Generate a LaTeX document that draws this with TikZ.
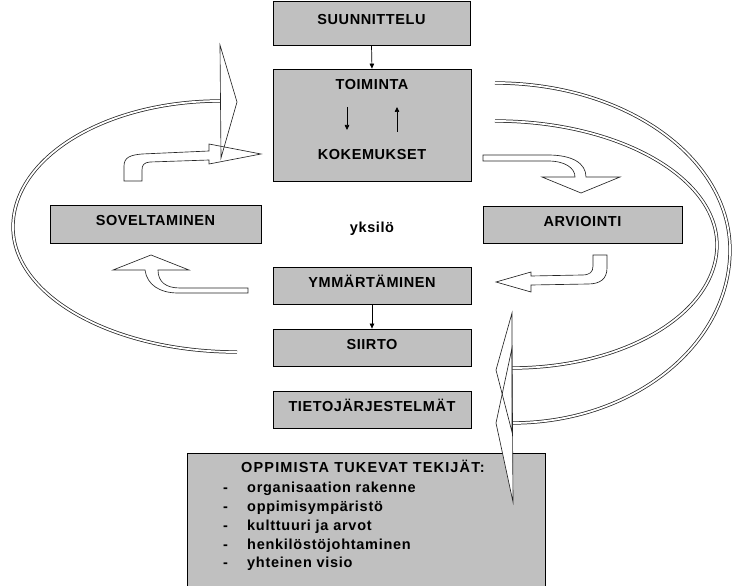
\documentclass[tikz,border=0pt]{standalone}
\usepackage{fontspec}
\setmainfont{Liberation Sans}
\usetikzlibrary{arrows.meta}
\definecolor{boxgray}{HTML}{C0C0C0}
\newcommand\boxfont{\fontsize{14.5}{17}\selectfont\bfseries\addfontfeatures{LetterSpace=4}}
\newcommand\titlefont{\fontsize{14.5}{17}\selectfont\bfseries\addfontfeatures{LetterSpace=8}}
\newcommand\itemfont{\fontsize{14.5}{17}\selectfont\bfseries\addfontfeatures{LetterSpace=5}}
\begin{document}
\begin{tikzpicture}[x=1pt,y=-1pt,
  box/.style={draw=black, line width=0.8pt, fill=boxgray, inner sep=0pt,
    font=\boxfont, text height=10.4pt, text depth=7.4pt},
  lbl/.style={inner sep=0pt, font=\boxfont, text height=10.4pt, text depth=0pt},
  conn/.style={-{Triangle[length=5pt,width=4.5pt]}, line width=0.7pt},
  band/.style={draw=black!85, line width=0.75pt, double=white, double distance=1.8pt},
  blockarrow/.style={draw=black!85, line width=0.65pt, line join=miter},
]
\useasboundingbox (0,0) rectangle (732,586);
\clip (0,0) rectangle (732,586);

% boxes
\node[box, minimum width=197pt, minimum height=44pt] (sun) at (371.5,23) {SUUNNITTELU};
\node[box, minimum width=198pt, minimum height=112pt] (toi) at (372,125) {};
\node[lbl] (toiT) at (372,84) {TOIMINTA};
\node[lbl] (kok) at (372,154) {KOKEMUKSET};
\node[box, minimum width=211pt, minimum height=38pt] (sov) at (155.5,224) {SOVELTAMINEN};
\node[box, minimum width=199pt, minimum height=37pt] (arv) at (582.5,224.5) {ARVIOINTI};
\node[lbl] (yks) at (372,227.5) {yksilö};
\node[box, minimum width=198pt, minimum height=37pt] (ymm) at (372,285.5) {YMMÄRTÄMINEN};
\node[box, minimum width=198pt, minimum height=37pt] (sii) at (372,347.5) {SIIRTO};
\node[box, minimum width=198pt, minimum height=37pt] (tie) at (372,409.5) {TIETOJÄRJESTELMÄT};
\node[box, minimum width=358pt, minimum height=137pt] (opp) at (366,521.5) {};

% supporting factors list
\node[anchor=base west, inner sep=0pt, font=\titlefont] (ttl) at (241,472) {OPPIMISTA TUKEVAT TEKIJÄT:};
\foreach \y/\t [count=\i] in {492/organisaation rakenne, 511/oppimisympäristö,
    530/kulttuuri ja arvot, 549/henkilöstöjohtaminen, 567/yhteinen visio}{
  \node[anchor=base west, inner sep=0pt, font=\itemfont] (dash\i) at (223,\y) {-};
  \node[anchor=base west, inner sep=0pt, font=\itemfont] (item\i) at (247,\y) {\t};
}

% straight connectors
\draw[conn] (sun.south) -- (toi.north);
\draw[conn] (ymm.south) -- (sii.north);
\coordinate (dA) at (347,107);
\coordinate (dB) at (347,130);
\coordinate (uA) at (397,132);
\coordinate (uB) at (397,107);
\draw[conn] (dA) -- (dB);
\draw[conn] (uA) -- (uB);

% large cycle bands
\draw[band] (220,101) .. controls (106,101) and (13,157) .. (13,227)
            .. controls (13,296) and (113,352) .. (237,352);
\draw[band] (495,83) .. controls (626,83) and (730,158) .. (730,250)
            .. controls (730,345) and (633,423) .. (512,423);
\draw[band] (495,121) .. controls (618,121) and (717,177) .. (717,245)
            .. controls (717,313) and (625,368) .. (512,368);

% block arrow shapes
\def\arrowL{(124,181) -- (124,166) .. controls (124,157) and (131,155) .. (142,154)
  -- (209,151) -- (209,144) -- (261,154) -- (209,164) -- (209,160) -- (150,162)
  .. controls (144,162.5) and (142,165) .. (142,170) -- (142,181) -- cycle}
\def\arrowR{(483,155) -- (548,155) .. controls (572,155) and (586,163) .. (586,177)
  -- (620,177) -- (581,193) -- (542,177) -- (575,177)
  .. controls (575,168) and (565,161) .. (548,161) -- (483,161) -- cycle}
\def\arrowD{(593,255) -- (607,255) -- (607,268) .. controls (607,279) and (600,284) .. (588,284)
  -- (531,285) -- (531,292) -- (496,282) -- (531,272) -- (531,276) -- (582,275)
  .. controls (590,275) and (593,272) .. (593,266) -- cycle}
\def\arrowU{(248,288) -- (180,288) .. controls (166,288) and (158,282) .. (158,270)
  -- (189,270) -- (151,255) -- (113,270) -- (145,270)
  .. controls (147,285) and (160,293) .. (178,293) -- (248,293) -- cycle}
\def\headL{(220,45) -- (237,102) -- (221,158) -- cycle}
\def\headA{(512,313) -- (496,370) -- (512,432) -- cycle}
\def\headB{(512,348) -- (496,423) -- (513,502) -- cycle}

\fill[white] \arrowL; \fill[white] \arrowR; \fill[white] \arrowD; \fill[white] \arrowU;
\fill[white] \headA; \fill[white] \headB;
\draw[blockarrow] \arrowL; \draw[blockarrow] \arrowR;
\draw[blockarrow] \arrowD; \draw[blockarrow] \arrowU;
\draw[blockarrow] \headL; \draw[blockarrow] \headA; \draw[blockarrow] \headB;
\end{tikzpicture}
\end{document}
